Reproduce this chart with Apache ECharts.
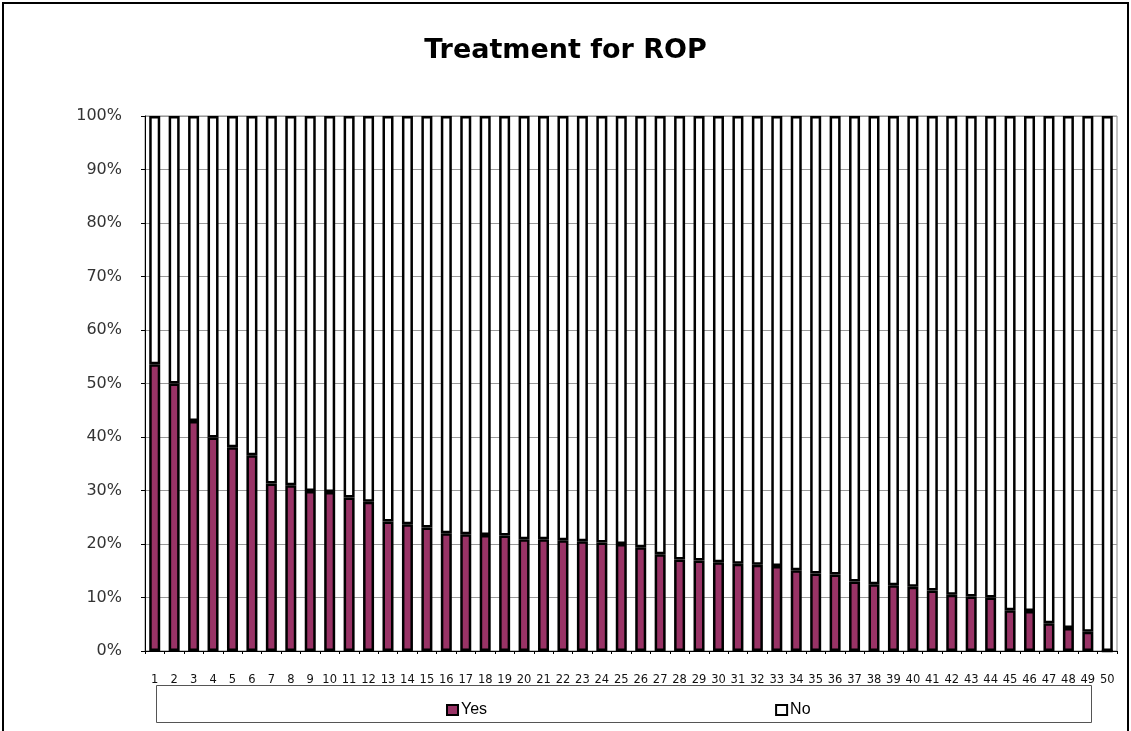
<!DOCTYPE html>
<html>
<head>
<meta charset="utf-8">
<script src="https://cdn.jsdelivr.net/npm/echarts@6/dist/echarts.min.js"></script>
<style>html,body{margin:0;padding:0;background:#fff}#c{width:1131px;height:731px}</style>
</head>
<body>
<div id="c"></div>
<script>
const categories = ['1','2','3','4','5','6','7','8','9','10','11','12','13','14','15','16','17','18','19','20','21','22','23','24','25','26','27','28','29','30','31','32','33','34','35','36','37','38','39','40','41','42','43','44','45','46','47','48','49','50'];
const yesValues = [53.6,50.0,43.0,39.9,38.1,36.6,31.3,31.0,29.9,29.7,28.7,27.9,24.2,23.7,23.1,22.0,21.8,21.7,21.6,20.9,20.9,20.7,20.5,20.3,20.0,19.4,18.1,17.1,16.9,16.6,16.3,16.1,15.9,15.1,14.5,14.3,13.0,12.5,12.3,12.0,11.3,10.5,10.2,10.0,7.6,7.5,5.2,4.3,3.6,0];
const noValues = [46.4,50.0,57.0,60.1,61.9,63.4,68.7,69.0,70.1,70.3,71.3,72.1,75.8,76.3,76.9,78.0,78.2,78.3,78.4,79.1,79.1,79.3,79.5,79.7,80.0,80.6,81.9,82.9,83.1,83.4,83.7,83.9,84.1,84.9,85.5,85.7,87.0,87.5,87.7,88.0,88.7,89.5,89.8,90.0,92.4,92.5,94.8,95.7,96.4,100];
const seriesNames = ['Yes', 'No'];
const titleText = 'Treatment for ROP';

const chart = echarts.init(document.getElementById('c'), null, {renderer: 'canvas'});
chart.setOption({
  backgroundColor: '#fff',
  animation: false,
  title: {
    text: titleText, left: 'center', top: 32,
    textStyle: {fontFamily: 'DejaVu Sans', fontWeight: 'bold', fontSize: 27, color: '#000'}
  },
  graphic: [
    {type: 'rect', shape: {x: 3, y: 3, width: 1125, height: 740}, style: {fill: 'none', stroke: '#000', lineWidth: 2}, silent: true, z: 100},
    {type: 'rect', shape: {x: 156.5, y: 685.5, width: 935, height: 37}, style: {fill: 'none', stroke: '#555', lineWidth: 1}, silent: true, z: 100}
  ],
  legend: {
    data: seriesNames, left: 441, top: 697, itemGap: 288, itemWidth: 11, itemHeight: 10,
    icon: 'rect',
    textStyle: {fontFamily: 'Liberation Sans', fontSize: 16, color: '#000', padding: [0,0,0,-2]}
  },
  grid: {left: 145, right: 14, top: 116, bottom: 80, show: true, borderColor: '#888', borderWidth: 1},
  xAxis: {
    type: 'category', data: categories,
    axisLine: {lineStyle: {color: '#000', width: 1}},
    axisTick: {show: true, length: 3, lineStyle: {color: '#000'}},
    axisLabel: {fontFamily: 'DejaVu Sans', fontSize: 11.5, color: '#111', margin: 23, interval: 0}
  },
  yAxis: {
    type: 'value', min: 0, max: 100, interval: 10,
    axisLine: {show: true, lineStyle: {color: '#000', width: 1}},
    axisTick: {show: true, length: 4, lineStyle: {color: '#000'}},
    splitLine: {lineStyle: {color: '#999', width: 1}},
    axisLabel: {formatter: '{value}%', fontFamily: 'DejaVu Sans', fontSize: 16, color: '#333', margin: 23}
  },
  series: [
    {name: seriesNames[0], type: 'bar', stack: 'all', data: yesValues, barWidth: 11,
     itemStyle: {color: '#993366', borderColor: '#000', borderWidth: 2.5}},
    {name: seriesNames[1], type: 'bar', stack: 'all', data: noValues, barWidth: 11,
     itemStyle: {color: '#ffffff', borderColor: '#000', borderWidth: 2.5}}
  ]
});
</script>
</body>
</html>
